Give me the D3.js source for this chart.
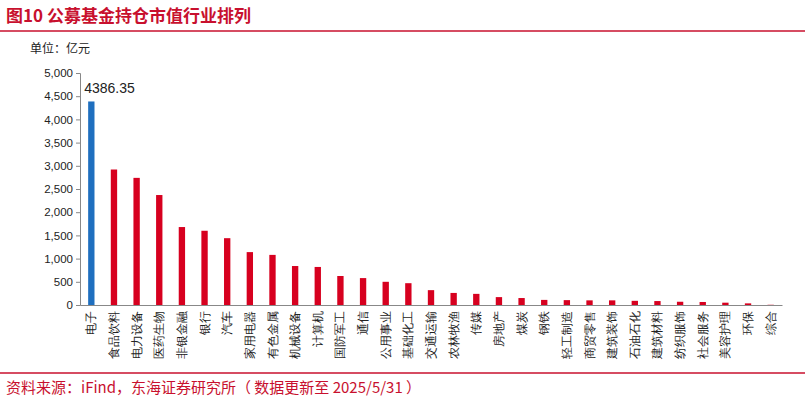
<!DOCTYPE html>
<html><head><meta charset="utf-8">
<script src="https://cdn.jsdelivr.net/npm/d3@7"></script>
<style>body{margin:0;background:#fff;font-family:"Noto Sans CJK SC",sans-serif}</style>
</head><body><svg id="c" width="805" height="404"></svg>
<script>
const categories = ["电子","食品饮料","电力设备","医药生物","非银金融","银行","汽车","家用电器","有色金属","机械设备","计算机","国防军工","通信","公用事业","基础化工","交通运输","农林牧渔","传媒","房地产","煤炭","钢铁","轻工制造","商贸零售","建筑装饰","石油石化","建筑材料","纺织服饰","社会服务","美容护理","环保","综合"];
const values = [4386.35,2920,2740,2370,1680,1600,1440,1140,1080,840,820,625,580,500,470,320,260,240,170,150,110,105,100,100,90,85,70,65,50,35,5];
const ticks = [0,500,1000,1500,2000,2500,3000,3500,4000,4500,5000];

const svg = d3.select("#c");
const red = "#c8102e";

// title + rules
svg.append("text").attr("x", 6).attr("y", 22).attr("font-size", 17).attr("font-weight", "bold")
  .attr("fill", red).text("图10  公募基金持仓市值行业排列");
svg.append("line").attr("x1", 0).attr("x2", 805).attr("y1", 31).attr("y2", 31).attr("stroke", red).attr("stroke-width", 1.5);
svg.append("line").attr("x1", 0).attr("x2", 805).attr("y1", 373).attr("y2", 373).attr("stroke", red).attr("stroke-width", 1.5);
svg.append("text").attr("x", 6).attr("y", 393).attr("font-size", 15).attr("fill", red)
  .text("资料来源：iFind，东海证券研究所（ 数据更新至 2025/5/31 ）");
svg.append("text").attr("x", 30).attr("y", 53).attr("font-size", 12).attr("fill", "#222").text("单位：亿元");

const x = d3.scaleBand().domain(categories).range([80, 782]).paddingInner(0.72).paddingOuter(0.36);
const y = d3.scaleLinear().domain([0, 5000]).range([305, 73]);

const ya = svg.append("g").attr("transform", "translate(80,0)")
  .call(d3.axisLeft(y).tickValues(ticks).tickFormat(d3.format(",")).tickSize(4));
ya.selectAll("text").attr("font-size", 11.5).attr("fill", "#222").attr("font-family", "Liberation Sans, Arial");
ya.selectAll("line,path").attr("stroke", "#888");

const xa = svg.append("g").attr("transform", "translate(0,305)")
  .call(d3.axisBottom(x).tickSize(0).tickSizeOuter(0));
xa.select("path").attr("stroke", "#888");
xa.selectAll("text").attr("font-size", 11.5).attr("fill", "#222")
  .attr("transform", "rotate(-90)").attr("text-anchor", "end").attr("dx", "-0.5em").attr("dy", "0.35em")
  .attr("x", 0).attr("y", 0);

svg.append("g").selectAll("rect").data(values).join("rect")
  .attr("x", (d, i) => x(categories[i])).attr("width", x.bandwidth())
  .attr("y", d => y(d)).attr("height", d => y(0) - y(d))
  .attr("fill", (d, i) => i === 0 ? "#1f6fbf" : "#d7001f");

svg.append("text").attr("x", x(categories[0]) - 4).attr("y", y(values[0]) - 8)
  .attr("font-size", 14).attr("fill", "#222").attr("font-family", "Liberation Sans, Arial")
  .text(values[0].toFixed(2));
</script></body></html>
